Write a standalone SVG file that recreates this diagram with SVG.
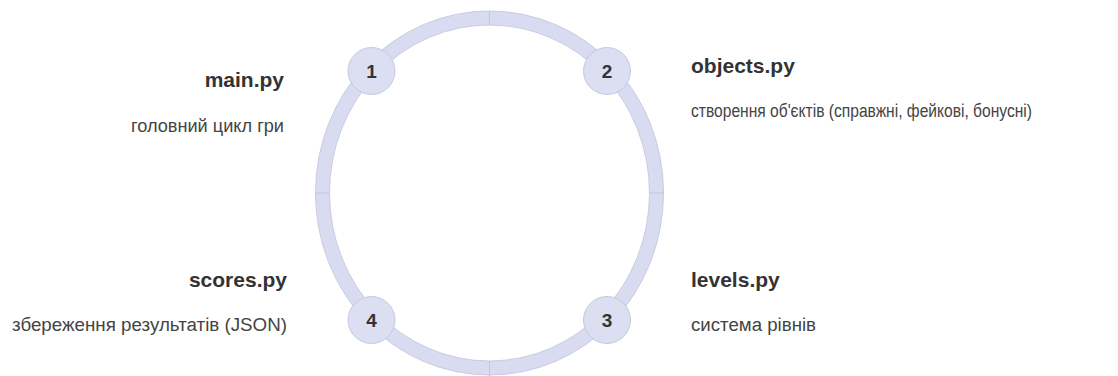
<svg xmlns="http://www.w3.org/2000/svg" width="1118" height="376" viewBox="0 0 1118 376">
  <style>
    .ring { fill: none; stroke: #d9dbf0; stroke-width: 14; }
    .ring-edge { fill: none; stroke: #c9cce3; stroke-width: 1; }
    .tick { stroke: #c3c6de; stroke-width: 1; }
    .node circle { fill: #dcdef1; stroke: #c6c9e0; stroke-width: 1; }
    .num { font-family: "Liberation Sans", Arial, sans-serif; font-weight: bold; font-size: 19px; fill: #333; text-anchor: middle; }
    .title { font-family: "Liberation Sans", Arial, sans-serif; font-weight: bold; font-size: 21px; fill: #333; }
    .desc { font-family: "Liberation Sans", Arial, sans-serif; font-size: 18px; fill: #444; }
    .end { text-anchor: end; }
  </style>
  <rect width="1118" height="376" fill="#ffffff"/>

  <!-- cycle ring -->
  <g id="connectors">
    <ellipse class="ring" cx="489.5" cy="193" rx="167" ry="175"/>
    <ellipse class="ring-edge" cx="489.5" cy="193" rx="174" ry="182"/>
    <ellipse class="ring-edge" cx="489.5" cy="193" rx="160" ry="168"/>
    <line class="tick" x1="489.5" y1="11" x2="489.5" y2="25"/>
    <line class="tick" x1="489.5" y1="361" x2="489.5" y2="376"/>
    <line class="tick" x1="315.5" y1="193" x2="329.5" y2="193"/>
    <line class="tick" x1="649.5" y1="193" x2="663.5" y2="193"/>
  </g>

  <g id="node1" class="node">
    <circle cx="371.5" cy="71" r="23.5"/>
    <text class="num" x="371.5" y="78">1</text>
    <text class="title end" x="284" y="87">main.py</text>
    <text class="desc end" x="284" y="132" textLength="153" lengthAdjust="spacingAndGlyphs">головний цикл  гри</text>
  </g>

  <g id="node2" class="node">
    <circle cx="607" cy="71" r="23.5"/>
    <text class="num" x="607" y="78">2</text>
    <text class="title" x="691" y="73">objects.py</text>
    <text class="desc" x="691" y="117" textLength="341" lengthAdjust="spacingAndGlyphs">створення об'єктів (справжні, фейкові, бонусні)</text>
  </g>

  <g id="node3" class="node">
    <circle cx="607" cy="320" r="23.5"/>
    <text class="num" x="607" y="327">3</text>
    <text class="title" x="691" y="287">levels.py</text>
    <text class="desc" x="691" y="331" textLength="125" lengthAdjust="spacingAndGlyphs">система рівнів</text>
  </g>

  <g id="node4" class="node">
    <circle cx="371.5" cy="320" r="23.5"/>
    <text class="num" x="371.5" y="327">4</text>
    <text class="title end" x="287" y="287">scores.py</text>
    <text class="desc end" x="287" y="331" textLength="275" lengthAdjust="spacingAndGlyphs">збереження результатів (JSON)</text>
  </g>
</svg>
